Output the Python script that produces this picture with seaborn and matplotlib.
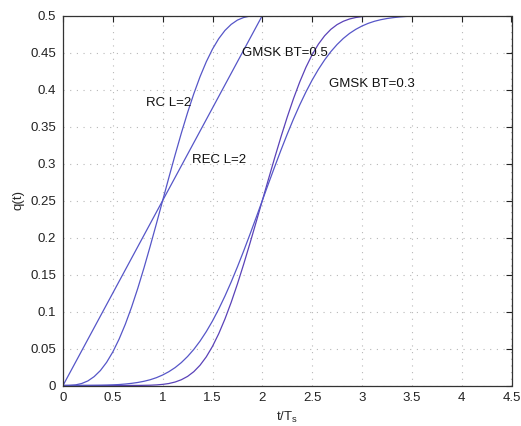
import matplotlib
matplotlib.use("Agg")
import matplotlib.pyplot as plt
import seaborn as sns
import pandas as pd

# ---- data ----
t_rec = [0.0, 2.0, 4.0]
q_rec = [0.0, 0.5, 0.5]

t_rc = [0.0, 0.0625, 0.125, 0.1875, 0.25, 0.3125, 0.375, 0.4375, 0.5, 0.5625,
        0.625, 0.6875, 0.75, 0.8125, 0.875, 0.9375, 1.0, 1.0625, 1.125, 1.1875,
        1.25, 1.3125, 1.375, 1.4375, 1.5, 1.5625, 1.625, 1.6875, 1.75, 1.8125,
        1.875, 1.9375, 2.0, 4.0]
q_rc = [0.0, 0.0001, 0.0008, 0.0027, 0.0062, 0.0120, 0.0202, 0.0313, 0.0454,
        0.0626, 0.0827, 0.1057, 0.1312, 0.1589, 0.1883, 0.2188, 0.25, 0.2812,
        0.3117, 0.3411, 0.3688, 0.3943, 0.4173, 0.4374, 0.4546, 0.4687, 0.4798,
        0.4880, 0.4938, 0.4973, 0.4992, 0.4999, 0.5, 0.5]

t_g5 = [0.0, 0.5, 0.75, 0.875, 0.9375, 1.0, 1.0625, 1.125, 1.1875, 1.25, 1.3125,
        1.375, 1.4375, 1.5, 1.5625, 1.625, 1.6875, 1.75, 1.8125, 1.875, 1.9375,
        2.0, 2.0625, 2.125, 2.1875, 2.25, 2.3125, 2.375, 2.4375, 2.5, 2.5625,
        2.625, 2.6875, 2.75, 2.8125, 2.875, 2.9375, 3.0, 3.0625, 3.125, 3.25,
        3.5, 4.0]
q_g5 = [0.0, 0.0, 0.0001, 0.0004, 0.0008, 0.0015, 0.0027, 0.0047, 0.0078, 0.0123,
        0.0187, 0.0274, 0.0387, 0.0529, 0.0700, 0.0899, 0.1124, 0.1372, 0.1638,
        0.1918, 0.2207, 0.25, 0.2793, 0.3082, 0.3362, 0.3628, 0.3876, 0.4101,
        0.4300, 0.4471, 0.4613, 0.4726, 0.4813, 0.4877, 0.4922, 0.4953, 0.4973,
        0.4985, 0.4992, 0.4996, 0.4999, 0.5, 0.5]

t_g3 = [0.0, 0.25, 0.375, 0.4375, 0.5, 0.5625, 0.625, 0.6875, 0.75, 0.8125,
        0.875, 0.9375, 1.0, 1.0625, 1.125, 1.1875, 1.25, 1.3125, 1.375, 1.4375,
        1.5, 1.5625, 1.625, 1.6875, 1.75, 1.8125, 1.875, 1.9375, 2.0, 2.0625,
        2.125, 2.1875, 2.25, 2.3125, 2.375, 2.4375, 2.5, 2.5625, 2.625, 2.6875,
        2.75, 2.8125, 2.875, 2.9375, 3.0, 3.0625, 3.125, 3.1875, 3.25, 3.3125,
        3.375, 3.4375, 3.5, 3.625, 3.75, 4.0]
q_g3 = [0.0, 0.0002, 0.0004, 0.0006, 0.0009, 0.0013, 0.002, 0.0029, 0.0041,
        0.0057, 0.0078, 0.0106, 0.0142, 0.0187, 0.0242, 0.0310, 0.0392, 0.0488,
        0.06, 0.0728, 0.0872, 0.1033, 0.1209, 0.1399, 0.1603, 0.1817, 0.204,
        0.2268, 0.25, 0.2732, 0.296, 0.3183, 0.3397, 0.3601, 0.3791, 0.3967,
        0.4128, 0.4272, 0.44, 0.4512, 0.4608, 0.4690, 0.4758, 0.4813, 0.4858,
        0.4894, 0.4922, 0.4943, 0.4959, 0.4971, 0.498, 0.4987, 0.4991, 0.4996,
        0.4998, 0.5]

labels = ["REC L=2", "RC L=2", "GMSK BT=0.5", "GMSK BT=0.3"]
label_pos_x = [1.29, 0.83, 1.80, 2.67]
label_pos_y = [0.305, 0.382, 0.45, 0.407]

x_ticks = [0, 0.5, 1, 1.5, 2, 2.5, 3, 3.5, 4, 4.5]
y_ticks = [0, 0.05, 0.1, 0.15, 0.2, 0.25, 0.3, 0.35, 0.4, 0.45, 0.5]

frames = []
for name, tt, qq in zip(labels, [t_rec, t_rc, t_g5, t_g3], [q_rec, q_rc, q_g5, q_g3]):
    frames.append(pd.DataFrame({"t": tt, "q": qq, "curve": name}))
df = pd.concat(frames, ignore_index=True)

sns.set_style("white")
plt.rcParams['font.family'] = ['Liberation Sans', 'DejaVu Sans']

fig = plt.figure(figsize=(5.21, 4.26), dpi=100)
ax = fig.add_axes([63/521, 1 - 385.5/426, (511.5-63)/521, (385.5-15.5)/426])

palette = {"REC L=2": "#5656c8", "RC L=2": "#5656c8",
           "GMSK BT=0.5": "#5a42b8", "GMSK BT=0.3": "#5656c8"}
sns.lineplot(data=df, x="t", y="q", hue="curve", palette=palette, ax=ax,
             legend=False, linewidth=0.9, sort=False, estimator=None)

ax.set_xlim(0, 4.5)
ax.set_ylim(0, 0.5)
ax.set_xticks(x_ticks)
ax.set_xticklabels([f"{v:g}" for v in x_ticks])
ax.set_yticks(y_ticks)
ax.set_yticklabels([f"{v:g}" for v in y_ticks])
ax.grid(True, linestyle=(0, (1, 5)), color="#b8b8b8", linewidth=0.8)
ax.tick_params(direction="in", top=True, right=True, length=4, width=0.8,
               labelsize=9.5, colors="#222222", pad=5)
for s in ax.spines.values():
    s.set_color("#333333")
    s.set_linewidth(0.9)

for lab, x, y in zip(labels, label_pos_x, label_pos_y):
    ax.text(x, y, lab, fontsize=9.5, ha="left", va="center", color="#111111")

ax.set_xlabel(r"t/T$_\mathregular{s}$", fontsize=9.5, labelpad=4)
ax.set_ylabel("q(t)", fontsize=9.5, labelpad=4)

fig.savefig("out.png", dpi=100)
